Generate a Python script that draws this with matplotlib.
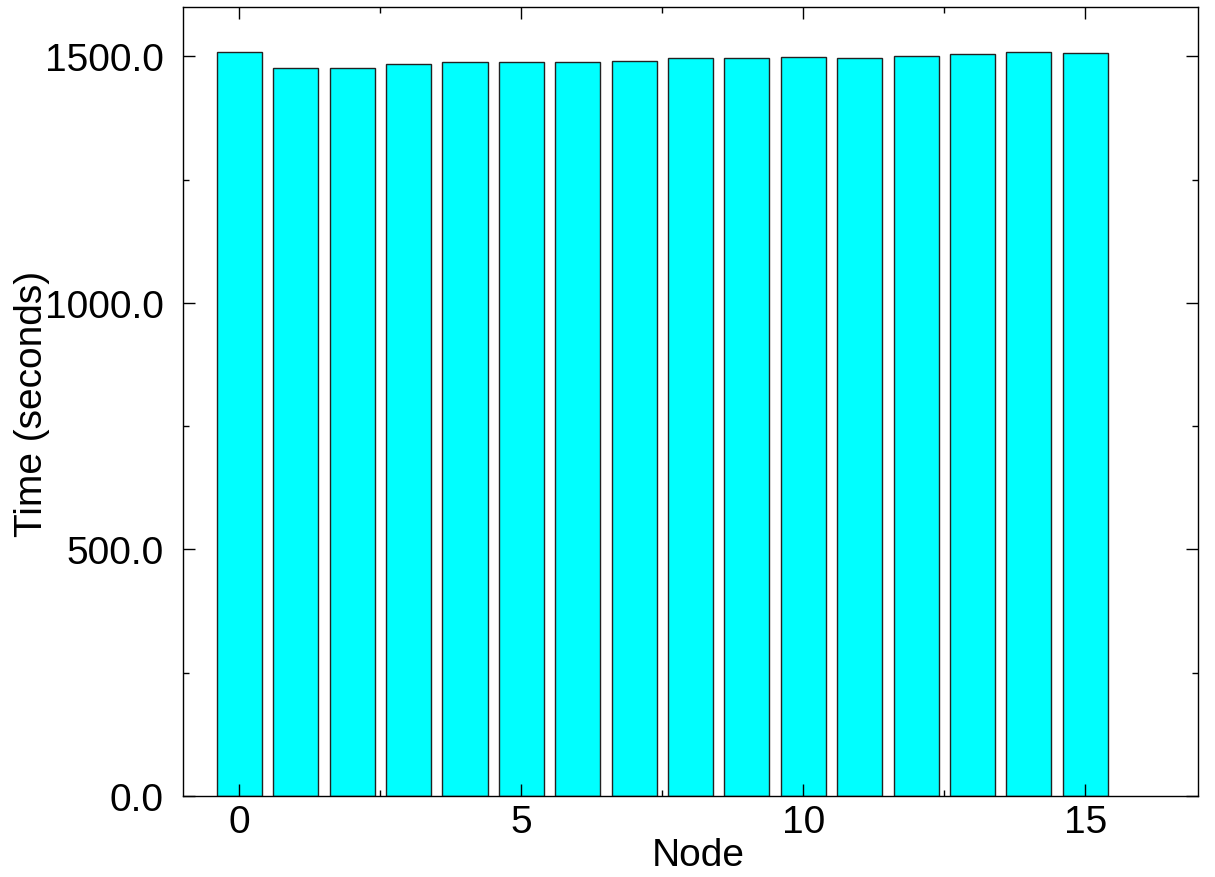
import numpy as np
import matplotlib
matplotlib.use("Agg")
import matplotlib.pyplot as plt
from matplotlib.ticker import MultipleLocator, FormatStrFormatter

# -----------------------------
# Data
# -----------------------------
nodes = list(range(16))
times = [1509, 1476, 1476, 1484, 1488, 1489, 1488, 1491,
         1497, 1497, 1499, 1497, 1501, 1504, 1509, 1507]
x_ticks = [0, 5, 10, 15]
y_ticks = [0, 500, 1000, 1500]

plt.rcParams["font.family"] = ["Liberation Sans", "DejaVu Sans"]
FS = 28

fig = plt.figure(figsize=(12.15, 8.78), dpi=100)
ax = fig.add_axes([183 / 1215, 1 - 797 / 878, 1015 / 1215, 789 / 878])

ax.bar(nodes, times, width=0.8, color="#00ffff", edgecolor="#222222", linewidth=1.0)

ax.set_xlim(-1, 17)
ax.set_ylim(0, 1600)
ax.set_xticks(x_ticks)
ax.set_yticks(y_ticks)
ax.xaxis.set_minor_locator(MultipleLocator(2.5))
ax.yaxis.set_minor_locator(MultipleLocator(250))
ax.yaxis.set_major_formatter(FormatStrFormatter("%.1f"))

ax.tick_params(which="both", direction="in", top=True, right=True, width=1.0)
ax.tick_params(which="major", length=8.5, labelsize=FS)
ax.tick_params(which="minor", length=4.5)
ax.tick_params(axis="x", which="major", pad=6)
ax.tick_params(axis="y", which="major", pad=14)
for s in ax.spines.values():
    s.set_linewidth(1.0)

# label coords: top of xlabel, right side of rotated ylabel
ax.set_xlabel("Node", fontsize=FS)
ax.set_ylabel("Time (seconds)", fontsize=FS)
ax.xaxis.set_label_coords(0.508, -0.052)
ax.yaxis.set_label_coords(-0.131, 0.498)

fig.savefig("out.png", dpi=100)
